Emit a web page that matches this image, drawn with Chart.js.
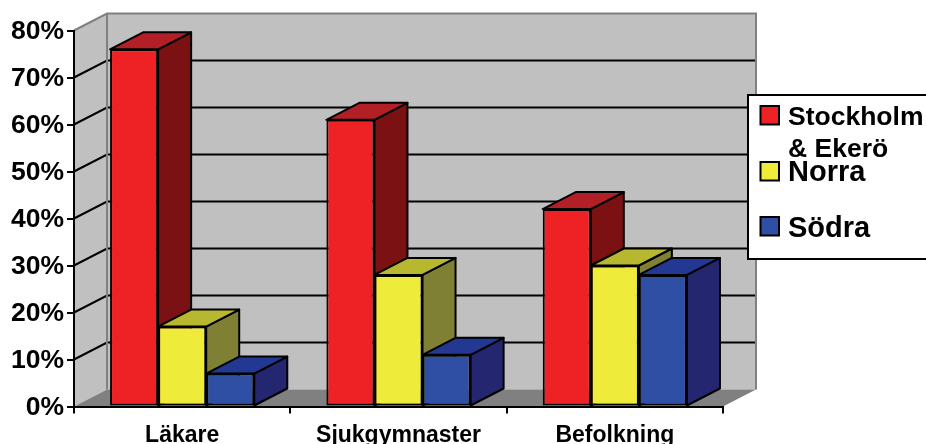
<!DOCTYPE html>
<html>
<head>
<meta charset="utf-8">
<style>html,body{margin:0;padding:0;background:#fff;overflow:hidden}canvas{display:block}</style>
<script src="https://cdn.jsdelivr.net/npm/chart.js@4"></script>
</head>
<body>
<canvas id="c" width="926" height="444"></canvas>
<script>
const categories = ['Läkare', 'Sjukgymnaster', 'Befolkning'];
const stockholm = [76, 61, 42];
const norra = [17, 28, 30];
const sodra = [7, 11, 28];
const seriesNames = [['Stockholm', '& Ekerö'], ['Norra'], ['Södra']];
const frontColors = ['#EE2224', '#EEEB3A', '#2E4FA3'];
const topColors = ['#B22025', '#B8B830', '#233892'];
const sideColors = ['#7B1113', '#7F8033', '#252670'];

const DX = 33, DY = -17;
const FONT = '"Liberation Sans", Arial, sans-serif';

function poly(ctx, pts, fill, stroke, lw) {
  ctx.beginPath();
  pts.forEach((p, i) => i ? ctx.lineTo(p[0], p[1]) : ctx.moveTo(p[0], p[1]));
  ctx.closePath();
  if (fill) { ctx.fillStyle = fill; ctx.fill(); }
  if (stroke) { ctx.strokeStyle = stroke; ctx.lineWidth = lw; ctx.lineJoin = 'round'; ctx.stroke(); }
}

// Back wall, side wall, floor and the gridlines that wrap around them.
const roomPlugin = {
  id: 'room',
  beforeDraw(chart) {
    const { ctx, chartArea: a } = chart;
    const ys = chart.scales.y;
    const L = a.left, R = a.right, T = a.top, B = a.bottom;
    ctx.save();
    poly(ctx, [[L + DX, T + DY], [R + DX, T + DY], [R + DX, B + DY], [L + DX, B + DY]], '#C0C0C0');
    poly(ctx, [[L, T], [L + DX, T + DY], [L + DX, B + DY], [L, B]], '#C0C0C0');
    ctx.lineCap = 'butt';
    ctx.lineWidth = 2;
    ys.ticks.forEach(t => {
      const y = ys.getPixelForValue(t.value);
      if (t.value === 0 || t.value === ys.max) return;
      ctx.strokeStyle = '#000';
      ctx.beginPath();
      ctx.moveTo(L, y);
      ctx.lineTo(L + DX, y + DY);
      ctx.lineTo(R + DX, y + DY);
      ctx.stroke();
    });
    ctx.strokeStyle = '#808080';
    ctx.beginPath();
    ctx.moveTo(L, T);
    ctx.lineTo(L + DX, T + DY);
    ctx.lineTo(R + DX, T + DY);
    ctx.lineTo(R + DX, B + DY);
    ctx.moveTo(L + DX, T + DY);
    ctx.lineTo(L + DX, B + DY);
    ctx.stroke();
    poly(ctx, [[L, B], [R, B], [R + DX, B + DY], [L + DX, B + DY]], '#808080');
    ctx.restore();
  },
  // Bars are painted left to right so each front face covers its neighbour's side.
  beforeDatasetsDraw(chart) {
    const { ctx } = chart;
    ctx.save();
    chart.data.datasets.forEach((ds, i) => {
      chart.getDatasetMeta(i).data.forEach(bar => {
        const l = bar.x - bar.width / 2, r = bar.x + bar.width / 2;
        const t = bar.y, b = bar.base;
        poly(ctx, [[r, t], [r + DX, t + DY], [r + DX, b + DY], [r, b]], sideColors[i], '#000', 2);
        poly(ctx, [[l, t], [l + DX, t + DY], [r + DX, t + DY], [r, t]], topColors[i], '#000', 2);
        bar.draw(ctx);
      });
    });
    ctx.restore();
    return false;
  },
  // Boxed key on the right, running off the edge of the canvas.
  afterDraw(chart) {
    const { ctx } = chart;
    ctx.save();
    ctx.fillStyle = '#fff';
    ctx.strokeStyle = '#000';
    ctx.lineWidth = 2;
    ctx.fillRect(748, 95, 190, 164);
    ctx.strokeRect(748, 95, 190, 164);
    const swatchTops = [106, 162, 217];
    const baselines = [[125, 157], [181], [237]];
    const fontSizes = [26.5, 29, 29];
    ctx.textBaseline = 'alphabetic';
    ctx.textAlign = 'left';
    seriesNames.forEach((lines, i) => {
      ctx.fillStyle = frontColors[i];
      ctx.fillRect(760.5, swatchTops[i], 18.5, 18.5);
      ctx.strokeRect(760.5, swatchTops[i], 18.5, 18.5);
      ctx.fillStyle = '#000';
      ctx.font = 'bold ' + fontSizes[i] + 'px ' + FONT;
      lines.forEach((txt, k) => ctx.fillText(txt, 788, baselines[i][k]));
    });
    ctx.restore();
  }
};

new Chart(document.getElementById('c'), {
  type: 'bar',
  data: {
    labels: categories,
    datasets: [stockholm, norra, sodra].map((values, i) => ({
      label: seriesNames[i].join(' '),
      data: values,
      backgroundColor: frontColors[i],
      borderColor: '#000',
      borderWidth: 2,
      borderSkipped: false,
      categoryPercentage: 2 / 3,
      barPercentage: 1
    }))
  },
  options: {
    responsive: false,
    animation: false,
    layout: { padding: { top: 30.5, right: 203, left: 0, bottom: 0 } },
    plugins: { legend: { display: false }, tooltip: { enabled: false } },
    scales: {
      x: {
        afterFit(s) { s.height = 37.5; },
        border: { color: '#000', width: 2 },
        grid: { drawOnChartArea: false, color: '#000', lineWidth: 2, tickLength: 7 },
        ticks: { color: '#000', maxRotation: 0, font: { family: FONT, size: 23, weight: 'bold' }, padding: 8 }
      },
      y: {
        min: 0,
        max: 80,
        afterFit(s) { s.width = 74; },
        border: { color: '#000', width: 2 },
        grid: { drawOnChartArea: false, color: '#000', lineWidth: 2, tickLength: 7 },
        ticks: {
          stepSize: 10,
          color: '#000',
          padding: 3,
          labelOffset: 1.5,
          font: { family: FONT, size: 26.5, weight: 'bold' },
          callback: v => v + '%'
        }
      }
    }
  },
  plugins: [roomPlugin]
});
</script>
</body>
</html>
